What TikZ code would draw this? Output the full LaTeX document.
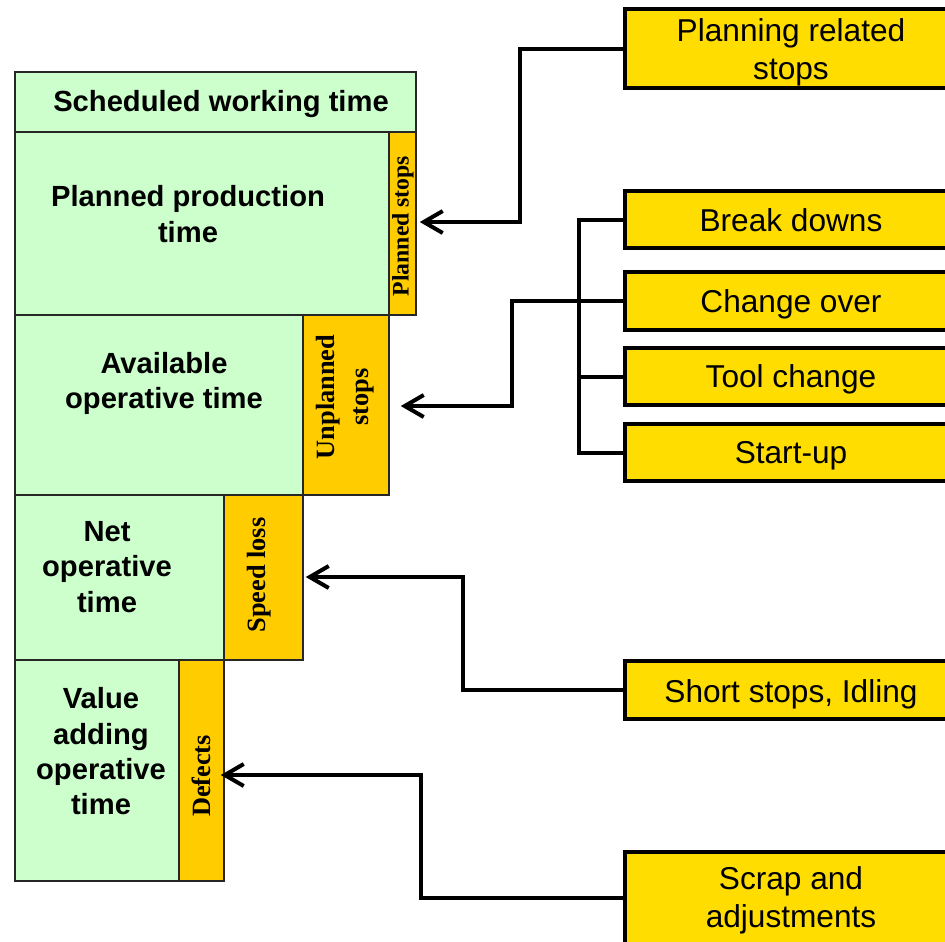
\documentclass[tikz,border=0pt]{standalone}
\usepackage{fontspec}
\setmainfont{Liberation Serif}
\newfontfamily\arial{Liberation Sans}
\usetikzlibrary{fit,calc,arrows.meta}

\definecolor{timegreen}{HTML}{CCFFCC}
\definecolor{lossorange}{HTML}{FFCC00}
\definecolor{causeyellow}{HTML}{FFDD00}

\tikzset{
  gbox/.style={draw=black!85, line width=0.03cm, fill=timegreen, inner sep=0pt},
  obox/.style={draw=black!85, line width=0.03cm, fill=lossorange, inner sep=0pt},
  gtext/.style={align=center, inner sep=0pt, font=\arial\bfseries\fontsize{16.6}{20.1}\selectfont},
  otext/.style={align=center, inner sep=0pt, rotate=90, font=\bfseries\fontsize{15}{19.3}\selectfont},
  causebox/.style={draw=black, line width=0.08cm, fill=causeyellow, minimum width=6.64cm, inner sep=0pt},
  causetext/.style={align=center, inner sep=0pt, font=\arial\fontsize{18}{21.5}\selectfont},
  wire/.style={line width=0.08cm},
  conn/.style={wire, -{Straight Barb[length=0.38cm,width=0.44cm]}},
}

\begin{document}
\begin{tikzpicture}[x=0.02cm, y=-0.02cm]
\useasboundingbox (0,0) rectangle (945,941);
\clip (0,0) rectangle (945,941);

% time breakdown column
\node[gbox, fit={(15,72)(416,132)}] (sched) {};
\node[gbox, fit={(15,132)(389,315)}] (ppt) {};
\node[obox, fit={(389,132)(416,315)}] (pstops) {};
\node[gbox, fit={(15,315)(303,495)}] (aot) {};
\node[obox, fit={(303,315)(389,495)}] (ustops) {};
\node[gbox, fit={(15,495)(224,660)}] (nopt) {};
\node[obox, fit={(224,495)(303,660)}] (speed) {};
\node[gbox, fit={(15,660)(179,881)}] (vaot) {};
\node[obox, fit={(179,660)(224,881)}] (defects) {};

\node[gtext] (tsched) at (221,104) {Scheduled working time};
\node[gtext] (tppt) at (188,214) {Planned production\\time};
\node[gtext] (taot) at (164,383.5) {Available\\operative time};
\node[gtext] (tnopt) at (107,567) {Net\\operative\\time};
\node[gtext] (tvaot) at (101,751.5) {Value\\adding\\operative\\time};

\node[otext, font=\bfseries\fontsize{13.5}{16}\selectfont] (tpstops) at (403,226) {Planned stops};
\node[otext] (tustops) at (345,397) {Unplanned\\stops};
\node[otext] (tspeed) at (259,575) {Speed loss};
\node[otext] (tdefects) at (201,776) {Defects};

% causes
\node[causebox, minimum height=79*0.02cm] (planning) at (791,48.5) {};
\node[causebox, minimum height=57*0.02cm] (brk) at (791,219.5) {};
\node[causebox, minimum height=58*0.02cm] (chg) at (791,301) {};
\node[causebox, minimum height=57*0.02cm] (tool) at (791,376.5) {};
\node[causebox, minimum height=57*0.02cm] (start) at (791,452.5) {};
\node[causebox, minimum height=58*0.02cm] (short) at (791,690) {};
\node[causebox, minimum height=92*0.02cm] (scrap) at (791,898) {};

\node[causetext, anchor=north] (tplanning) at ($(planning.center)+(0,-30.5)$) {Planning related\\stops};
\node[causetext, anchor=base] (tbrk) at ($(brk.center)+(0,11.5)$) {Break downs};
\node[causetext, anchor=base] (tchg) at ($(chg.center)+(0,11)$) {Change over};
\node[causetext, anchor=base] (ttool) at ($(tool.center)+(0,10.5)$) {Tool change};
\node[causetext, anchor=base] (tstart) at ($(start.center)+(0,10.5)$) {Start-up};
\node[causetext, anchor=base] (tshort) at ($(short.center)+(0,12)$) {Short stops, Idling};
\node[causetext, anchor=north] (tscrap) at ($(scrap.center)+(0,-32)$) {Scrap and\\adjustments};

% elbows of the connectors
\coordinate (k1) at (520,222);
\coordinate (k2) at (512,406);
\coordinate (k3) at (463,577);
\coordinate (k4) at (421,775);
\coordinate (bus) at (579,0);

% bus joining the unplanned stop causes
\draw[wire] (brk.west) -| (bus |- start.west) -- (start.west);
\draw[wire] (bus |- tool.west) -- (tool.west);

% connectors to the losses
\draw[conn] (planning.west) -| (k1) -- ($(pstops.east |- k1)+(3,0)$);
\draw[conn] (chg.west) -| (k2) -- ($(ustops.east |- k2)+(11,0)$);
\draw[conn] (short.west) -| (k3) -- ($(speed.east |- k3)+(2,0)$);
\draw[conn] (scrap.west) -| (k4) -- ($(defects.east |- k4)+(-4,0)$);
\end{tikzpicture}
\end{document}
